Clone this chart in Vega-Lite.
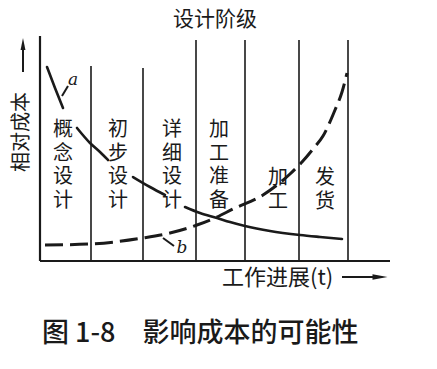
{
  "$schema": "https://vega.github.io/schema/vega-lite/v6.json",
  "width": 437,
  "height": 369,
  "autosize": {"type": "fit", "contains": "padding"},
  "padding": 0,
  "background": "white",
  "config": {"view": {"stroke": null}, "text": {"font": "Noto Sans CJK SC", "color": "#1a1a1a"}},
  "datasets": {
    "axes": [
      {"x": 0, "x2": 0, "y": 0, "y2": 225},
      {"x": 0, "x2": 350, "y": 0, "y2": 0}
    ],
    "dividers": [
      {"x": 51, "x2": 51, "y": 0, "y2": 195},
      {"x": 103, "x2": 103, "y": 0, "y2": 193},
      {"x": 156, "x2": 156, "y": 0, "y2": 221},
      {"x": 205, "x2": 205, "y": 0, "y2": 221},
      {"x": 259, "x2": 259, "y": 0, "y2": 221},
      {"x": 308, "x2": 308, "y": 0, "y2": 221}
    ],
    "curveA": [
      {"seg": 1, "x": 7, "y": 194}, {"seg": 1, "x": 15, "y": 173}, {"seg": 1, "x": 23, "y": 153},
      {"seg": 2, "x": 37, "y": 133}, {"seg": 2, "x": 50, "y": 118}, {"seg": 2, "x": 60, "y": 109}, {"seg": 2, "x": 68, "y": 101},
      {"seg": 3, "x": 93, "y": 84}, {"seg": 3, "x": 110, "y": 74}, {"seg": 3, "x": 125, "y": 66},
      {"seg": 4, "x": 145, "y": 54}, {"seg": 4, "x": 160, "y": 48}, {"seg": 4, "x": 177, "y": 43}, {"seg": 4, "x": 190, "y": 39},
      {"seg": 4, "x": 205, "y": 35}, {"seg": 4, "x": 230, "y": 30}, {"seg": 4, "x": 260, "y": 26}, {"seg": 4, "x": 280, "y": 24}, {"seg": 4, "x": 302, "y": 22}
    ],
    "curveB": [
      {"x": 5, "y": 16}, {"x": 50, "y": 17}, {"x": 103, "y": 23}, {"x": 130, "y": 28}, {"x": 157, "y": 36},
      {"x": 177, "y": 44}, {"x": 193, "y": 52}, {"x": 223, "y": 66}, {"x": 250, "y": 87}, {"x": 262, "y": 99},
      {"x": 273, "y": 112}, {"x": 283, "y": 125}, {"x": 295, "y": 151}, {"x": 302, "y": 169}, {"x": 307, "y": 188}
    ],
    "leaders": [
      {"x": 22, "x2": 28, "y": 165, "y2": 175},
      {"x": 123, "x2": 134, "y": 23, "y2": 15},
      {"x": -17, "x2": -17, "y": 189, "y2": 212},
      {"x": 302, "x2": 336, "y": -16, "y2": -16}
    ],
    "heads": [
      {"x": -17, "y": 217, "dir": "up"},
      {"x": 340, "y": -16, "dir": "right"}
    ],
    "stages": [
      {"x": 23, "y": 131, "t": "概念设计"},
      {"x": 78, "y": 131, "t": "初步设计"},
      {"x": 132, "y": 131, "t": "详细设计"},
      {"x": 179, "y": 131, "t": "加工准备"},
      {"x": 238, "y": 83, "t": "加工"},
      {"x": 285, "y": 83, "t": "发货"}
    ]
  },
  "encoding": {
    "x": {"type": "quantitative", "scale": {"domain": [-40, 397], "nice": false, "zero": false}, "axis": null},
    "y": {"type": "quantitative", "scale": {"domain": [-108, 261], "nice": false, "zero": false}, "axis": null}
  },
  "layer": [
    {
      "data": {"name": "dividers"},
      "mark": {"type": "rule", "color": "#1a1a1a", "strokeWidth": 1.6},
      "encoding": {"x": {"field": "x"}, "x2": {"field": "x2"}, "y": {"field": "y"}, "y2": {"field": "y2"}}
    },
    {
      "data": {"name": "axes"},
      "mark": {"type": "rule", "color": "#1a1a1a", "strokeWidth": 2.2},
      "encoding": {"x": {"field": "x"}, "x2": {"field": "x2"}, "y": {"field": "y"}, "y2": {"field": "y2"}}
    },
    {
      "data": {"name": "curveA"},
      "mark": {"type": "line", "color": "#1a1a1a", "strokeWidth": 2.6, "interpolate": "monotone", "strokeCap": "round"},
      "encoding": {"x": {"field": "x"}, "y": {"field": "y"}, "detail": {"field": "seg"}}
    },
    {
      "data": {"name": "curveB"},
      "mark": {"type": "line", "color": "#1a1a1a", "strokeWidth": 3, "interpolate": "monotone", "strokeDash": [18, 7]},
      "encoding": {"x": {"field": "x"}, "y": {"field": "y"}}
    },
    {
      "data": {"name": "leaders"},
      "mark": {"type": "rule", "color": "#1a1a1a", "strokeWidth": 2},
      "encoding": {"x": {"field": "x"}, "x2": {"field": "x2"}, "y": {"field": "y"}, "y2": {"field": "y2"}}
    },
    {
      "data": {"name": "heads"},
      "transform": [{"filter": "datum.dir === 'up'"}],
      "mark": {"type": "point", "filled": true, "color": "#1a1a1a", "opacity": 1, "size": 150, "shape": "M-0.4,1L0,-1L0.4,1Z"},
      "encoding": {"x": {"field": "x"}, "y": {"field": "y"}}
    },
    {
      "data": {"name": "heads"},
      "transform": [{"filter": "datum.dir === 'right'"}],
      "mark": {"type": "point", "filled": true, "color": "#1a1a1a", "opacity": 1, "size": 225, "shape": "M-1,-0.38L1,0L-1,0.38Z"},
      "encoding": {"x": {"field": "x"}, "y": {"field": "y"}}
    },
    {
      "data": {"name": "stages"},
      "transform": [{"calculate": "split(datum.t, '')", "as": "lines"}],
      "mark": {"type": "text", "fontSize": 20, "lineHeight": 23.7, "align": "center", "baseline": "middle"},
      "encoding": {"x": {"field": "x"}, "y": {"field": "y"}, "text": {"field": "lines"}}
    },
    {
      "data": {"values": [{"x": 175, "y": 241, "t": "设计阶级"}]},
      "mark": {"type": "text", "fontSize": 21, "align": "center", "baseline": "middle"},
      "encoding": {"x": {"field": "x"}, "y": {"field": "y"}, "text": {"field": "t"}}
    },
    {
      "data": {"values": [{"x": -18, "y": 129, "t": "相对成本"}]},
      "mark": {"type": "text", "fontSize": 20, "align": "center", "baseline": "middle", "angle": 270},
      "encoding": {"x": {"field": "x"}, "y": {"field": "y"}, "text": {"field": "t"}}
    },
    {
      "data": {"values": [{"x": 182, "y": -17, "t": "工作进展(t)"}]},
      "mark": {"type": "text", "fontSize": 22, "align": "left", "baseline": "middle"},
      "encoding": {"x": {"field": "x"}, "y": {"field": "y"}, "text": {"field": "t"}}
    },
    {
      "data": {"values": [{"x": 2, "y": -73, "t": "图 1-8　影响成本的可能性"}]},
      "mark": {"type": "text", "fontSize": 27, "fontWeight": 500, "align": "left", "baseline": "middle"},
      "encoding": {"x": {"field": "x"}, "y": {"field": "y"}, "text": {"field": "t"}}
    },
    {
      "data": {"values": [{"x": 33, "y": 181, "t": "a"}, {"x": 142, "y": 13, "t": "b"}]},
      "mark": {"type": "text", "fontSize": 17, "fontStyle": "italic", "font": "DejaVu Serif", "align": "center", "baseline": "middle"},
      "encoding": {"x": {"field": "x"}, "y": {"field": "y"}, "text": {"field": "t"}}
    }
  ]
}
